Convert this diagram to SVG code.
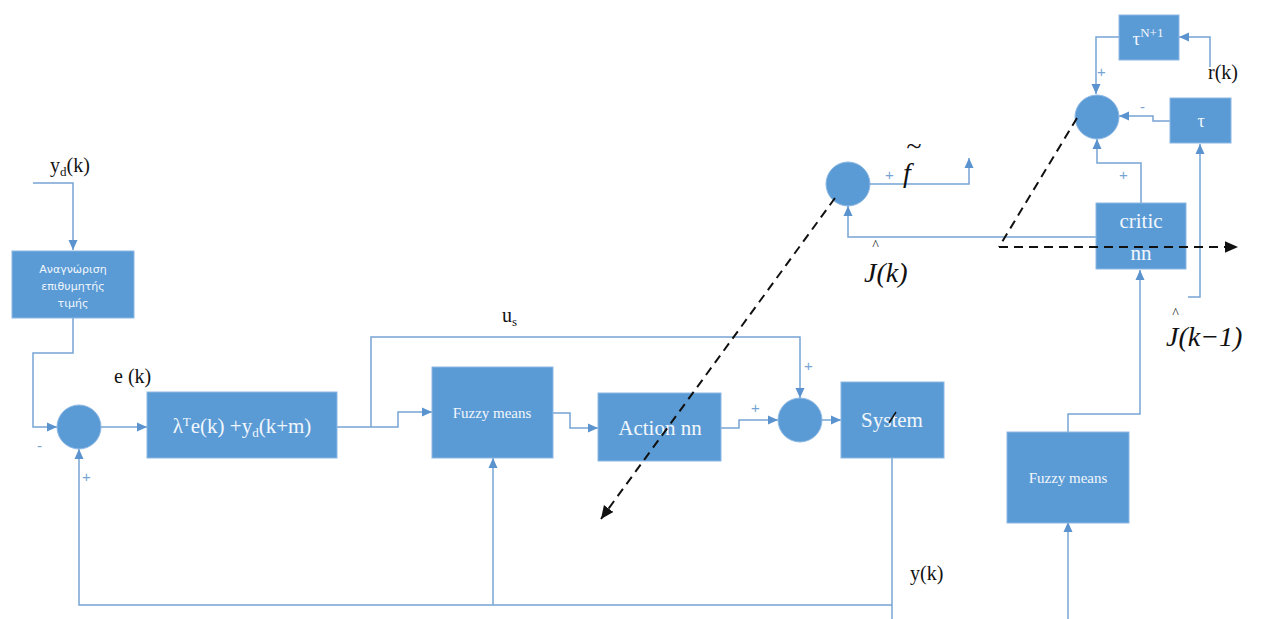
<svg xmlns="http://www.w3.org/2000/svg" width="1263" height="619" viewBox="0 0 1263 619">
<style>
.box{fill:#5B9BD5;stroke:#8DB8E4;stroke-width:1}
.sum{fill:#5B9BD5;stroke:#8DB8E4;stroke-width:1}
.bt{fill:#F2F7FC;font-family:"Liberation Serif",serif;text-anchor:middle}
.gk{fill:#F2F7FC;font-family:"DejaVu Sans","Noto Sans",sans-serif;font-size:11px;text-anchor:middle}
.ln{fill:none;stroke:#77A4D3;stroke-width:1.5}
.ar{marker-end:url(#ah)}
.dash{fill:none;stroke:#111;stroke-width:2;stroke-dasharray:9 6}
.lab{fill:#111;font-family:"Liberation Serif",serif;font-size:20px}
.math{fill:#111;font-family:"Liberation Serif",serif;font-style:italic;font-size:28px}
.sg{fill:#77A4D3;font-family:"Liberation Sans",sans-serif;font-size:15px}
</style>
<defs>
<marker id="ah" viewBox="0 0 10 10" refX="10" refY="5" markerWidth="10" markerHeight="10" markerUnits="userSpaceOnUse" orient="auto">
<path d="M0,0.5 L10,5 L0,9.5 z" fill="#5B93CF"/>
</marker>
<marker id="bh" viewBox="0 0 10 10" refX="10" refY="5" markerWidth="13" markerHeight="13" markerUnits="userSpaceOnUse" orient="auto">
<path d="M0,0.5 L10,5 L0,9.5 z" fill="#111"/>
</marker>
</defs>
<rect width="1263" height="619" fill="#fff"/>

<g id="connectors">
<path class="ln ar" d="M33,183 H73 V250"/>
<path class="ln ar" d="M73,318 V353 H33 V427 H57"/>
<path class="ln ar" d="M101,427 H147"/>
<path class="ln ar" d="M337,427 H398 V412 H432"/>
<path class="ln ar" d="M371,427 V337 H800 V398"/>
<path class="ln ar" d="M553,413 H570 V428 H598"/>
<path class="ln ar" d="M721,428 H739 V420 H778"/>
<path class="ln ar" d="M822,420 H841"/>
<path class="ln" d="M892,458 V619"/>
<path class="ln ar" d="M892,605 H79 V449"/>
<path class="ln ar" d="M493,605 V458"/>
<path class="ln ar" d="M1068,619 V522"/>
<path class="ln ar" d="M1068,432 V414 H1140 V270"/>
<path class="ln ar" d="M1096,237 H848 V206"/>
<path class="ln ar" d="M870,184 H969 V158"/>
<path class="ln ar" d="M1141,203 V163 H1097 V139"/>
<path class="ln ar" d="M1188,297 H1200 V144"/>
<path class="ln ar" d="M1170,121 H1153 V116 H1119"/>
<path class="ln ar" d="M1119,37 H1096 V94"/>
<path class="ln ar" d="M1210,67 V37 H1179"/>
</g>

<g id="n-recognition">
<rect class="box" x="12" y="251" width="122" height="67"/>
<text class="gk" x="73" y="273">Αναγνώριση</text>
<text class="gk" x="73" y="290">επιθυμητής</text>
<text class="gk" x="73" y="307">τιμής</text>
</g>
<g id="n-sum1"><circle class="sum" cx="79" cy="427" r="22"/></g>
<g id="n-lambda">
<rect class="box" x="147" y="392" width="190" height="66"/>
<text class="bt" x="242" y="433" font-size="21">λ<tspan font-size="13" dy="-7">T</tspan><tspan dy="7">e(k) +y</tspan><tspan font-size="13" dy="4">d</tspan><tspan dy="-4">(k+m)</tspan></text>
</g>
<g id="n-fuzzy1">
<rect class="box" x="432" y="367" width="121" height="91"/>
<text class="bt" x="492" y="418" font-size="15">Fuzzy means</text>
</g>
<g id="n-action">
<rect class="box" x="598" y="393" width="123" height="68"/>
<text class="bt" x="660" y="435" font-size="21">Action nn</text>
</g>
<g id="n-sum2"><circle class="sum" cx="800" cy="420" r="22"/></g>
<g id="n-system">
<rect class="box" x="841" y="382" width="103" height="76"/>
<text class="bt" x="892" y="427" font-size="21">System</text>
</g>
<g id="n-fuzzy2">
<rect class="box" x="1007" y="432" width="122" height="91"/>
<text class="bt" x="1068" y="483" font-size="15">Fuzzy means</text>
</g>
<g id="n-critic">
<rect class="box" x="1096" y="203" width="90" height="66"/>
<text class="bt" x="1141" y="228" font-size="21">critic</text>
<text class="bt" x="1141" y="260" font-size="21">nn</text>
</g>
<g id="n-sumf"><circle class="sum" cx="848" cy="184" r="22"/></g>
<g id="n-sum3"><circle class="sum" cx="1097" cy="117" r="22"/></g>
<g id="n-tau">
<rect class="box" x="1170" y="98" width="61" height="45"/>
<text class="bt" x="1201" y="127" font-size="18">τ</text>
</g>
<g id="n-tauN">
<rect class="box" x="1119" y="15" width="60" height="45"/>
<text class="bt" x="1148" y="45" font-size="19">τ<tspan font-size="13" dy="-8">N+1</tspan></text>
</g>

<g id="dashed">
<path class="dash" d="M835,198 L601,519" marker-end="url(#bh)"/>
<path class="dash" d="M1077,118 L999,247"/>
<path class="dash" d="M999,247 H1238" marker-end="url(#bh)"/>
<path d="M889,423 L896,412" stroke="#111" stroke-width="1.5"/>
</g>

<g id="labels">
<text class="lab" x="50" y="172">y<tspan font-size="13" dy="4">d</tspan><tspan dy="-4">(k)</tspan></text>
<text class="lab" x="114" y="383">e (k)</text>
<text class="lab" x="502" y="322">u<tspan font-size="13" dy="4">s</tspan></text>
<text class="lab" x="910" y="580">y(k)</text>
<text class="lab" x="1208" y="79">r(k)</text>
<text class="sg" x="804" y="371">+</text>
<text class="sg" x="751" y="413">+</text>
<text class="sg" x="37" y="451">-</text>
<text class="sg" x="82" y="482">+</text>
<text class="sg" x="885" y="180">+</text>
<text class="sg" x="1119" y="180">+</text>
<text class="sg" x="1097" y="77">+</text>
<text class="sg" x="1140" y="112">-</text>
<text class="math" x="903" y="182" font-size="26">f</text>
<text class="math" x="906" y="155" font-size="20" font-style="normal">~</text>
<text class="math" x="864" y="282">J(k)<tspan x="872" y="250" font-size="14">^</tspan></text>
<text class="math" x="1166" y="346">J(k−1)<tspan x="1172" y="318" font-size="14">^</tspan></text>
</g>
</svg>
